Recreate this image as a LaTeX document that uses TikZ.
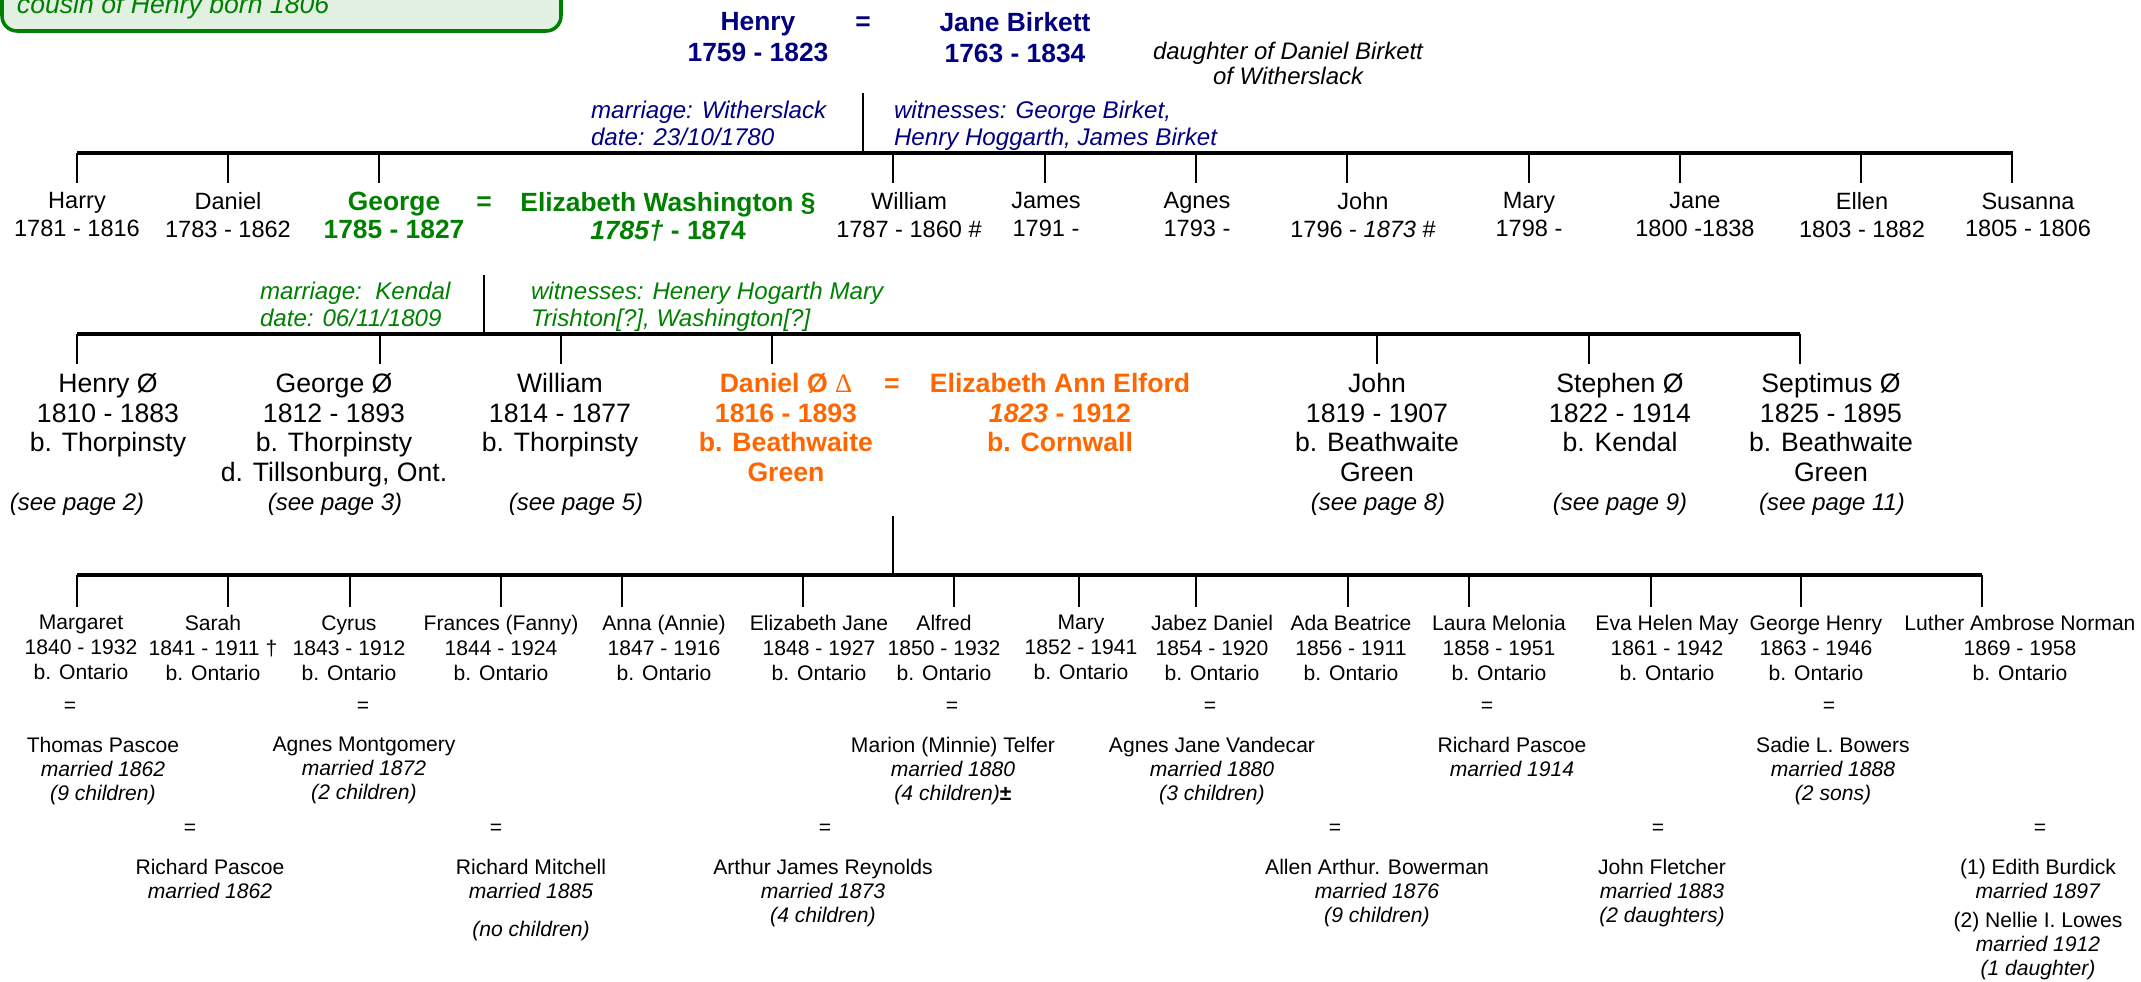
\documentclass[tikz,border=0pt]{standalone}
\usepackage{fontspec}
\setmainfont{Liberation Sans}
\newfontfamily\serifsym{Liberation Serif}
\definecolor{navy}{HTML}{000080}
\definecolor{tgreen}{HTML}{008000}
\definecolor{torange}{HTML}{FF6600}
\definecolor{boxfill}{HTML}{E2F0E2}
\tikzset{
  every node/.style={inner sep=0pt, outer sep=0pt},
  barline/.style={line width=1.2pt},
  dropline/.style={line width=0.8pt},
  boxstyle/.style={draw=tgreen, fill=boxfill, line width=1pt, rounded corners=0.15cm},
  boxtext/.style={font=\itshape\fontsize{7.57}{9}\selectfont, text=tgreen, anchor=base west},
  topb/.style={font=\bfseries\fontsize{7.5}{8.8}\selectfont, align=center, anchor=north, text=navy},
  dnote/.style={font=\itshape\fontsize{6.8}{7.1}\selectfont, align=center, anchor=north},
  note/.style={font=\itshape\fontsize{6.86}{7.6}\selectfont, align=left, anchor=north west},
  gtwo/.style={font=\fontsize{6.7}{7.8}\selectfont, align=center, anchor=north},
  bigb/.style={font=\bfseries\fontsize{7.5}{8.05}\selectfont, align=center, anchor=north},
  gthree/.style={font=\fontsize{7.57}{8.4}\selectfont, align=center, anchor=north},
  gthreeb/.style={font=\bfseries\fontsize{7.57}{8.4}\selectfont, align=center, anchor=north, text=torange},
  seepg/.style={font=\itshape\fontsize{6.8}{8}\selectfont, anchor=base},
  gfour/.style={font=\fontsize{6}{7.1}\selectfont, align=center, anchor=north},
  spouse/.style={font=\fontsize{6}{6.8}\selectfont, align=center, anchor=north},
  eqsign/.style={anchor=base},
}
\begin{document}
\begin{tikzpicture}[x=0.01cm,y=-0.01cm]
\useasboundingbox (0,0) rectangle (2141,982);
% note box (cut at top)
\draw[boxstyle] (2,-60) rectangle (561,31);
\node[boxtext] (cousin) at (17,14) {cousin of Henry born 1806};
% ---------- top couple ----------
\node[topb] (henry) at (758,12) {Henry\\1759 - 1823};
\node[topb,eqsign] (eqa) at (863,31) {=};
\node[topb] (jane) at (1015,12) {Jane Birkett\\1763 - 1834};
\node[dnote] (daughter) at (1288,42) {daughter of Daniel Birkett\\of Witherslack};
\node[note,text=navy] (mara) at (591,101.3) {marriage: Witherslack\\date: 23/10/1780};
\node[note,text=navy] (wita) at (894,101.3) {witnesses: George Birket,\\Henry Hoggarth, James Birket};
\coordinate (ca) at (863,93);
\coordinate (cb) at (863,153);
\draw[dropline] (ca) -- (cb);
\coordinate (btwol) at (77,153);
\coordinate (btwor) at (2013,153);
\draw[barline] (btwol) -- (btwor);
\foreach \x [count=\i] in {77,228,379,893,1045,1196,1347,1529,1680,1861,2012}{
  \coordinate (gtwot\i) at (\x,153);
  \coordinate (gtwob\i) at (\x,183);
  \draw[dropline] (gtwot\i) -- (gtwob\i);
}
% ---------- generation 2 ----------
\node[gtwo] (harry) at (77,192.6) {Harry\\1781 - 1816};
\node[gtwo] (daniela) at (228,192.6) {Daniel\\1783 - 1862};
\node[bigb,text=tgreen] (george) at (394,192.1) {George\\1785 - 1827};
\node[bigb,eqsign,text=tgreen] (eqb) at (484,211) {=};
\node[bigb,text=tgreen] (eliz) at (668,192.1) {Elizabeth Washington §\\\textit{1785†} - 1874};
\node[gtwo] (william) at (909,192.6) {William\\1787 - 1860 \#};
\node[gtwo] (james) at (1046,192.6) {James\\1791 -};
\node[gtwo] (agnes) at (1197,192.6) {Agnes\\1793 -};
\node[gtwo] (johna) at (1363,192.6) {John\\1796 - \textit{1873} \#};
\node[gtwo] (marya) at (1529,192.6) {Mary\\1798 -};
\node[gtwo] (janea) at (1695,192.6) {Jane\\1800 -1838};
\node[gtwo] (ellen) at (1862,192.6) {Ellen\\1803 - 1882};
\node[gtwo] (susanna) at (2028,192.6) {Susanna\\1805 - 1806};
% ---------- generation 3 ----------
\node[note,text=tgreen] (marb) at (260,282.3) {marriage:\ \ Kendal\\date: 06/11/1809};
\node[note,text=tgreen] (witb) at (531,282.3) {witnesses: Henery Hogarth Mary\\Trishton[?], Washington[?]};
\coordinate (cc) at (484,275);
\coordinate (cd) at (484,334);
\draw[dropline] (cc) -- (cd);
\coordinate (bthreel) at (77,334);
\coordinate (bthreer) at (1800,334);
\draw[barline] (bthreel) -- (bthreer);
\foreach \x [count=\i] in {77,380,561,772,1377,1589,1800}{
  \coordinate (gthreet\i) at (\x,334);
  \coordinate (gthreeb\i) at (\x,364);
  \draw[dropline] (gthreet\i) -- (gthreeb\i);
}
\node[gthree] (henryb) at (108,373.5) {Henry Ø\\1810 - 1883\\b. Thorpinsty};
\node[gthree] (georgeb) at (334,373.5) {George Ø\\1812 - 1893\\b. Thorpinsty\\d. Tillsonburg, Ont.};
\node[gthree] (williamb) at (560,373.5) {William\\1814 - 1877\\b. Thorpinsty};
\node[gthreeb] (danielb) at (786,373.5) {Daniel Ø {\mdseries\serifsym Δ}\\1816 - 1893\\b. Beathwaite\\Green};
\node[gthreeb,eqsign] (eqc) at (892,392.5) {=};
\node[gthreeb] (elford) at (1060,373.5) {Elizabeth Ann Elford\\\textit{1823} - 1912\\b. Cornwall};
\node[gthree] (johnb) at (1377,373.5) {John\\1819 - 1907\\b. Beathwaite\\Green};
\node[gthree] (stephen) at (1620,373.5) {Stephen Ø\\1822 - 1914\\b. Kendal};
\node[gthree] (septimus) at (1831,373.5) {Septimus Ø\\1825 - 1895\\b. Beathwaite\\Green};
\node[seepg] (spa) at (77,511) {(see page 2)};
\node[seepg] (spb) at (335,511) {(see page 3)};
\node[seepg] (spc) at (576,511) {(see page 5)};
\node[seepg] (spd) at (1378,511) {(see page 8)};
\node[seepg] (spe) at (1620,511) {(see page 9)};
\node[seepg] (spf) at (1832,511) {(see page 11)};
% ---------- generation 4 ----------
\coordinate (ce) at (893,516);
\coordinate (cf) at (893,575);
\draw[dropline] (ce) -- (cf);
\coordinate (bfourl) at (77,575);
\coordinate (bfourr) at (1982,575);
\draw[barline] (bfourl) -- (bfourr);
\foreach \x [count=\i] in {77,228,350,501,622,803,954,1079,1196,1348,1469,1651,1801,1982}{
  \coordinate (gfourt\i) at (\x,575);
  \coordinate (gfourb\i) at (\x,607);
  \draw[dropline] (gfourt\i) -- (gfourb\i);
}
\node[gfour] (margaret) at (81,615.4) {Margaret\\1840 - 1932\\b. Ontario};
\node[gfour] (sarah) at (213,615.4) {Sarah\\1841 - 1911 †\\b. Ontario};
\node[gfour] (cyrus) at (349,615.4) {Cyrus\\1843 - 1912\\b. Ontario};
\node[gfour] (frances) at (501,615.4) {Frances (Fanny)\\1844 - 1924\\b. Ontario};
\node[gfour] (anna) at (664,615.4) {Anna (Annie)\\1847 - 1916\\b. Ontario};
\node[gfour] (elizjane) at (819,615.4) {Elizabeth Jane\\1848 - 1927\\b. Ontario};
\node[gfour] (alfred) at (944,615.4) {Alfred\\1850 - 1932\\b. Ontario};
\node[gfour] (maryb) at (1081,615.4) {Mary\\1852 - 1941\\b. Ontario};
\node[gfour] (jabez) at (1212,615.4) {Jabez Daniel\\1854 - 1920\\b. Ontario};
\node[gfour] (ada) at (1351,615.4) {Ada Beatrice\\1856 - 1911\\b. Ontario};
\node[gfour] (laura) at (1499,615.4) {Laura Melonia\\1858 - 1951\\b. Ontario};
\node[gfour] (eva) at (1667,615.4) {Eva Helen May\\1861 - 1942\\b. Ontario};
\node[gfour] (georgeh) at (1816,615.4) {George Henry\\1863 - 1946\\b. Ontario};
\node[gfour] (luther) at (2020,615.4) {Luther Ambrose Norman\\1869 - 1958\\b. Ontario};
% first row of marriages
\node[gfour,eqsign] (eqd) at (70,712.5) {=};
\node[gfour,eqsign] (eqe) at (363,712.5) {=};
\node[gfour,eqsign] (eqf) at (952,712.5) {=};
\node[gfour,eqsign] (eqg) at (1210,712.5) {=};
\node[gfour,eqsign] (eqh) at (1487,712.5) {=};
\node[gfour,eqsign] (eqi) at (1829,712.5) {=};
\node[spouse] (thomas) at (103,737.4) {Thomas Pascoe\\\textit{married 1862}\\\textit{(9 children)}};
\node[spouse] (agnesm) at (364,737.4) {Agnes Montgomery\\\textit{married 1872}\\\textit{(2 children)}};
\node[spouse] (marion) at (953,737.4) {Marion (Minnie) Telfer\\\textit{married 1880}\\\textit{(4 children)}\textbf{±}};
\node[spouse] (agnesv) at (1212,737.4) {Agnes Jane Vandecar\\\textit{married 1880}\\\textit{(3 children)}};
\node[spouse] (richardp) at (1512,737.4) {Richard Pascoe\\\textit{married 1914}};
\node[spouse] (sadie) at (1833,737.4) {Sadie L. Bowers\\\textit{married 1888}\\\textit{(2 sons)}};
% second row of marriages
\node[gfour,eqsign] (eqj) at (190,834.5) {=};
\node[gfour,eqsign] (eqk) at (496,834.5) {=};
\node[gfour,eqsign] (eql) at (825,834.5) {=};
\node[gfour,eqsign] (eqm) at (1335,834.5) {=};
\node[gfour,eqsign] (eqn) at (1658,834.5) {=};
\node[gfour,eqsign] (eqo) at (2040,834.5) {=};
\node[spouse] (richardq) at (210,859.4) {Richard Pascoe\\\textit{married 1862}};
\node[spouse] (mitchell) at (531,859.4) {Richard Mitchell\\\textit{married 1885}\\[4pt]\textit{(no children)}};
\node[spouse] (arthur) at (823,859.4) {Arthur James Reynolds\\\textit{married 1873}\\\textit{(4 children)}};
\node[spouse] (allen) at (1377,859.4) {Allen Arthur. Bowerman\\\textit{married 1876}\\\textit{(9 children)}};
\node[spouse] (fletcher) at (1662,859.4) {John Fletcher\\\textit{married 1883}\\\textit{(2 daughters)}};
\node[spouse] (edith) at (2038,859.4) {(1) Edith Burdick\\\textit{married 1897}\\[1.4pt](2) Nellie I. Lowes\\\textit{married 1912}\\\textit{(1 daughter)}};
\end{tikzpicture}
\end{document}
